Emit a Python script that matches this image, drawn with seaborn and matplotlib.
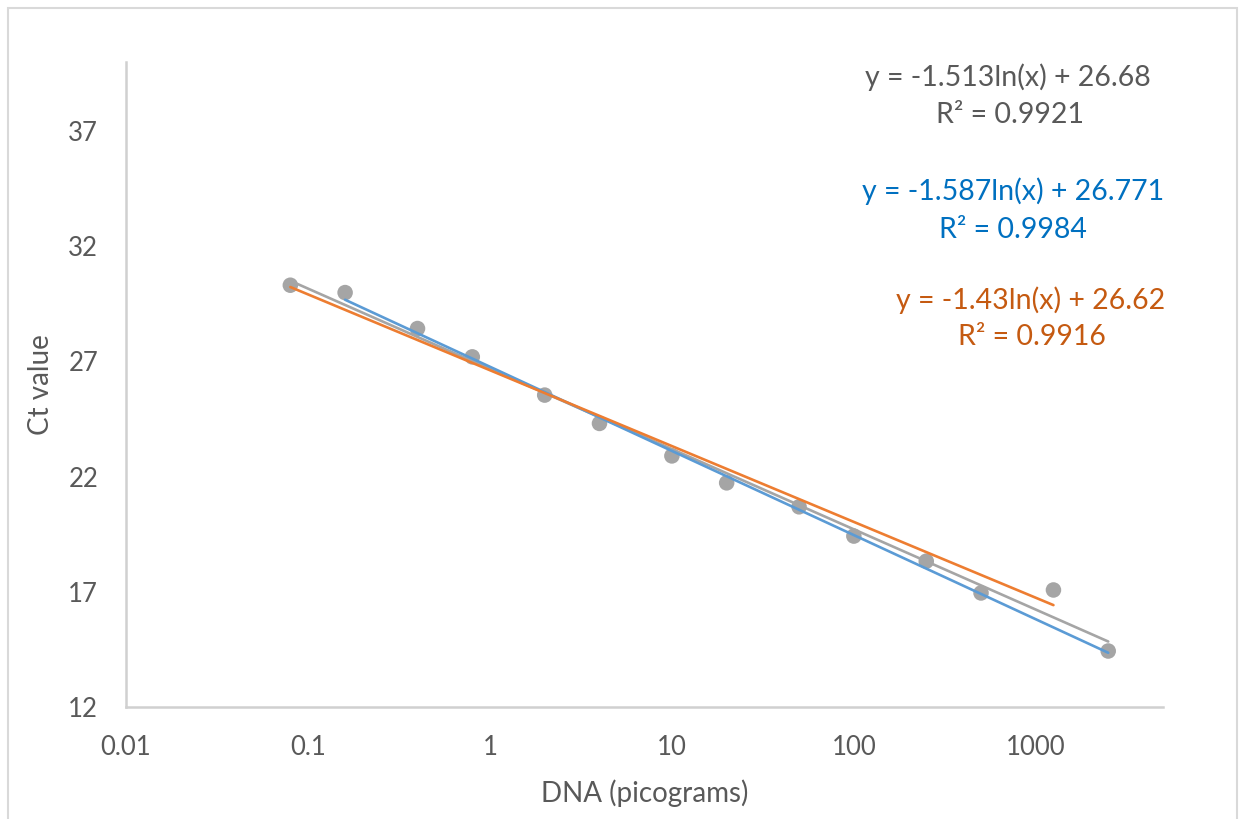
import numpy as np
import pandas as pd
import matplotlib
matplotlib.use("Agg")
import matplotlib.pyplot as plt
import seaborn as sns
from matplotlib.patches import Rectangle

# DNA amount (pg) and measured Ct
dna_pg = [0.08, 0.16, 0.4, 0.8, 2, 4, 10, 20, 50, 100, 250, 500, 1250, 2500]
ct_value = [30.31, 29.99, 28.43, 27.20, 25.54, 24.31, 22.90, 21.73, 20.69, 19.42,
            18.33, 16.95, 17.08, 14.43]

# logarithmic trendlines: name, slope, intercept, r2, x range
trend_names = ["all", "blue", "orange"]
trend_slopes = [-1.513, -1.587, -1.43]
trend_intercepts = [26.68, 26.771, 26.62]
trend_r2 = ["0.9921", "0.9984", "0.9916"]
trend_xmin = [0.08, 0.16, 0.08]
trend_xmax = [2500, 2500, 1250]
trend_labels = ["y = -1.513ln(x) + 26.68", "y = -1.587ln(x) + 26.771", "y = -1.43ln(x) + 26.62"]

line_colors = ["#A5A5A5", "#5B9BD5", "#ED7D31"]
text_colors = ["#595959", "#0070C0", "#C55A11"]

sns.set_style("white")
plt.rcParams["font.family"] = ["Lato", "DejaVu Sans"]

W, H = 1241, 819
fig = plt.figure(figsize=(W / 100, H / 100), dpi=100)
ax = fig.add_axes([126 / W, 1 - 707 / H, (1163 - 126) / W, (707 - 62) / H])

df = pd.DataFrame({"dna": dna_pg, "ct": ct_value})
sns.scatterplot(data=df, x="dna", y="ct", ax=ax, color="#A5A5A5", s=125,
                edgecolor="none", zorder=2)

for i in range(len(trend_names)):
    xs = np.array([trend_xmin[i], trend_xmax[i]])
    ys = trend_slopes[i] * np.log(xs) + trend_intercepts[i]
    sns.lineplot(x=xs, y=ys, ax=ax, color=line_colors[i], linewidth=1.9, zorder=3)

ax.set_xscale("log")
ax.set_xlim(0.01, 5000)
ax.set_ylim(12, 40)
ax.set_xticks([0.01, 0.1, 1, 10, 100, 1000])
ax.set_xticklabels(["0.01", "0.1", "1", "10", "100", "1000"])
ax.minorticks_off()
ax.set_yticks([12, 17, 22, 27, 32, 37])

for side in ["top", "right"]:
    ax.spines[side].set_visible(False)
for side in ["left", "bottom"]:
    ax.spines[side].set_color("#D0D0D0")
    ax.spines[side].set_linewidth(1.8)

ax.tick_params(axis="both", length=0, labelsize=18.5, labelcolor="#595959")
ax.tick_params(axis="x", pad=20)
ax.tick_params(axis="y", pad=20)
ax.set_xlabel("DNA (picograms)", fontsize=20, color="#595959", va="center")
ax.set_ylabel("Ct value", fontsize=20, color="#595959", va="center")
ax.xaxis.set_label_coords(0.5, -0.133)
ax.yaxis.set_label_coords(-0.082, 0.5)

# equation / R² labels
eq_pos = [(1008, 77, 1010, 115), (1013, 191, 1013, 230), (1031, 300, 1032, 337)]
for i in range(len(trend_names)):
    ex, ey, rx, ry = eq_pos[i]
    fig.text(ex / W, 1 - ey / H, trend_labels[i], ha="center", va="center",
             fontsize=20.5, color=text_colors[i])
    fig.text(rx / W, 1 - ry / H, "R² = " + trend_r2[i], ha="center", va="center",
             fontsize=20.5, color=text_colors[i])

fig.patches.append(Rectangle((8 / W, -0.05), (1237 - 8) / W, 1.05 - 8 / H,
                             transform=fig.transFigure, fill=False,
                             edgecolor="#D9D9D9", linewidth=1.5))

fig.savefig("out.png", dpi=100)
